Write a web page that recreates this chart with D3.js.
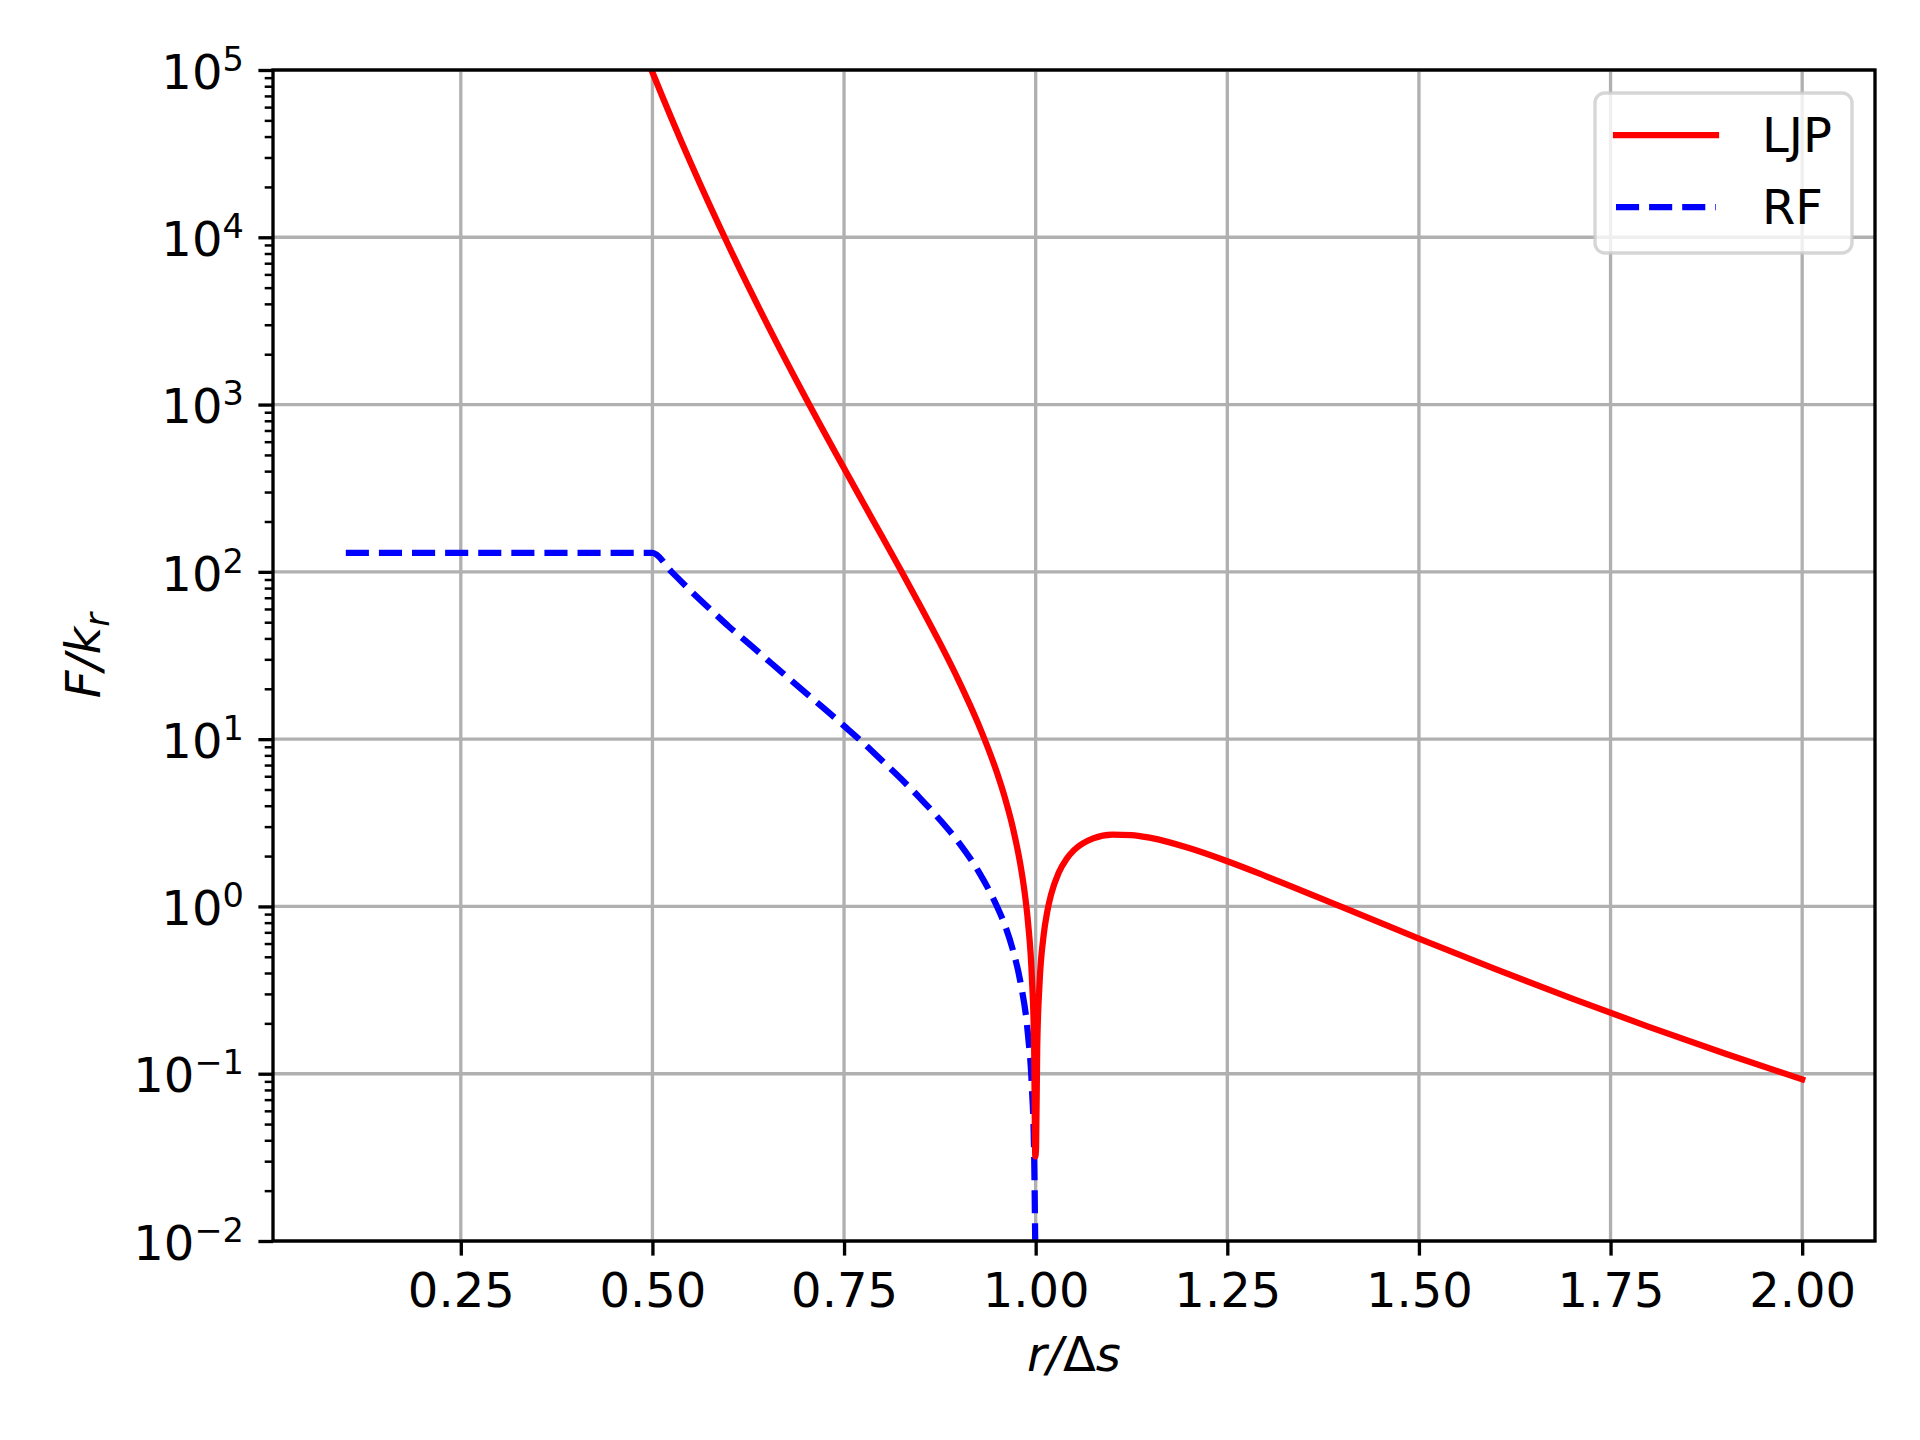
<!DOCTYPE html>
<html>
<head>
<meta charset="utf-8">
<script src="https://cdnjs.cloudflare.com/ajax/libs/d3/7.8.5/d3.min.js"></script>
<style>
  html, body { margin: 0; padding: 0; background: #fff; }
  text { font-family: "DejaVu Sans", sans-serif; }
</style>
</head>
<body>
<div id="chart-area"></div>
<script>
// data
var ljpR = [0.49, 0.50, 0.55, 0.60, 0.65, 0.70, 0.75, 0.775, 0.80, 0.825,
            0.85, 0.875, 0.90, 0.925, 0.95, 0.96, 0.97, 0.98, 0.985, 0.99,
            0.995, 0.998, 0.9995, 1.0005, 1.002, 1.005, 1.01, 1.015, 1.02, 1.03,
            1.04, 1.05, 1.075, 1.10, 1.125, 1.15, 1.20, 1.25, 1.30, 1.40,
            1.50, 1.60, 1.70, 1.80, 1.90, 2.00];
var ljpF = [126000, 97000, 27760, 8780, 3008, 1095, 416, 258.9, 161.4, 100.4,
            61.96, 37.6, 22.17, 12.38, 6.206, 4.442, 2.986, 1.785, 1.271, 0.803,
            0.381, 0.146, 0.032, 0.036, 0.143, 0.343, 0.651, 0.925, 1.173, 1.589,
            1.916, 2.169, 2.552, 2.689, 2.672, 2.567, 2.232, 1.861, 1.519, 0.990,
            0.642, 0.4215, 0.2809, 0.1907, 0.1317, 0.0925];

var rfR = [0.10, 0.50, 0.525, 0.55, 0.575, 0.60, 0.625, 0.65, 0.675, 0.70,
           0.725, 0.75, 0.775, 0.80, 0.825, 0.85, 0.875, 0.90, 0.925, 0.95,
           0.96, 0.97, 0.98, 0.99, 0.995, 0.998, 0.9994];
var rfF = [130, 130, 100, 77, 60, 47, 37.5, 29.8, 23.7, 18.9,
           15.1, 12.0, 9.5, 7.4, 5.75, 4.4, 3.3, 2.4, 1.63, 0.99,
           0.77, 0.555, 0.355, 0.17, 0.084, 0.033, 0.0098];

var xTicks = [0.25, 0.50, 0.75, 1.00, 1.25, 1.50, 1.75, 2.00];
var yExps = [-2, -1, 0, 1, 2, 3, 4, 5];
var seriesNames = ['LJP', 'RF'];

var def = {
    width: 1920,
    height: 1440,
    left: 273,
    right: 1875,
    top: 70,
    bottom: 1241,
    fs: 48,
    lw: 6.25,
    axw: 3.33
};

var svg = d3.select('#chart-area').append('svg')
    .attr('width', def.width)
    .attr('height', def.height);

svg.append('rect').attr('width', def.width).attr('height', def.height).attr('fill', '#fff');

var x = d3.scaleLinear()
    .domain([0.005, 2.095])
    .range([def.left, def.right]);

var y = d3.scaleLog()
    .domain([1e-2, 1e5])
    .range([def.bottom, def.top]);

var yMajor = yExps.map(function(e) { return Math.pow(10, e); });
var yMinor = [];
for (var e = -2; e < 5; e++) {
    for (var m = 2; m < 10; m++) yMinor.push(m * Math.pow(10, e));
}

// grid
var grid = svg.append('g').attr('stroke', '#b0b0b0').attr('stroke-width', def.axw);
grid.selectAll('.gx').data(xTicks).enter().append('line')
    .attr('x1', function(d) { return x(d); })
    .attr('x2', function(d) { return x(d); })
    .attr('y1', def.top).attr('y2', def.bottom);
grid.selectAll('.gy').data(yMajor).enter().append('line')
    .attr('y1', function(d) { return y(d); })
    .attr('y2', function(d) { return y(d); })
    .attr('x1', def.left).attr('x2', def.right);

// clip to axes box
svg.append('clipPath').attr('id', 'clip')
    .append('rect')
    .attr('x', def.left).attr('y', def.top)
    .attr('width', def.right - def.left).attr('height', def.bottom - def.top);

var line = d3.line()
    .x(function(d) { return x(d[0]); })
    .y(function(d) { return y(d[1]); })
    .curve(d3.curveMonotoneX);

var ljp = ljpR.map(function(r, i) { return [r, ljpF[i]]; });
var rf = rfR.map(function(r, i) { return [r, rfF[i]]; });

var plot = svg.append('g').attr('clip-path', 'url(#clip)');

plot.append('path')
    .datum(rf)
    .attr('d', line)
    .attr('fill', 'none')
    .attr('stroke', 'blue')
    .attr('stroke-width', def.lw)
    .attr('stroke-dasharray', '23.1,10')
    .attr('stroke-linejoin', 'round');

plot.append('path')
    .datum(ljp)
    .attr('d', line)
    .attr('fill', 'none')
    .attr('stroke', 'red')
    .attr('stroke-width', def.lw)
    .attr('stroke-linecap', 'square')
    .attr('stroke-linejoin', 'round');

// axes
var xAxis = d3.axisBottom(x)
    .tickValues(xTicks)
    .tickFormat(d3.format('.2f'))
    .tickSize(14.6)
    .tickPadding(14.6);

var xLeg = svg.append('g')
    .attr('transform', 'translate(0,' + def.bottom + ')')
    .call(xAxis);
xLeg.select('.domain').remove();
xLeg.selectAll('line').attr('stroke', '#000').attr('stroke-width', def.axw);
xLeg.selectAll('text')
    .attr('fill', '#000')
    .attr('font-size', def.fs + 'px')
    .attr('dy', '0.76em');

var yMinorAxis = d3.axisLeft(y).tickValues(yMinor).tickFormat('').tickSize(8.3);
var yMin = svg.append('g')
    .attr('transform', 'translate(' + def.left + ',0)')
    .call(yMinorAxis);
yMin.select('.domain').remove();
yMin.selectAll('line').attr('stroke', '#000').attr('stroke-width', 2.5);

var yAxis = d3.axisLeft(y).tickValues(yMajor).tickSize(14.6).tickPadding(14.6);
var yLeg = svg.append('g')
    .attr('transform', 'translate(' + def.left + ',0)')
    .call(yAxis);
yLeg.select('.domain').remove();
yLeg.selectAll('line').attr('stroke', '#000').attr('stroke-width', def.axw);
yLeg.selectAll('text')
    .attr('fill', '#000')
    .attr('font-size', def.fs + 'px')
    .attr('dy', '0.38em')
    .each(function(d) {
        var t = d3.select(this);
        var ex = Math.round(Math.log10(d));
        t.text('');
        t.append('tspan').text('10');
        t.append('tspan')
            .attr('font-size', (def.fs * 0.7) + 'px')
            .attr('dy', -18)
            .text(ex < 0 ? '\u2212' + (-ex) : '' + ex);
    });

// spines
svg.append('rect')
    .attr('x', def.left).attr('y', def.top)
    .attr('width', def.right - def.left).attr('height', def.bottom - def.top)
    .attr('fill', 'none')
    .attr('stroke', '#000')
    .attr('stroke-width', def.axw);

// X label
var xLab = svg.append('text')
    .attr('x', (def.left + def.right) / 2)
    .attr('y', 1371)
    .attr('text-anchor', 'middle')
    .attr('font-size', def.fs + 'px');
xLab.append('tspan').attr('font-style', 'italic').text('r/');
xLab.append('tspan').text('\u0394');
xLab.append('tspan').attr('font-style', 'italic').text('s');

// Y label
var yLab = svg.append('text')
    .attr('transform', 'translate(100,' + ((def.top + def.bottom) / 2) + ') rotate(-90)')
    .attr('text-anchor', 'middle')
    .attr('font-size', def.fs + 'px')
    .attr('font-style', 'italic');
yLab.append('tspan').text('F/k');
yLab.append('tspan').attr('font-size', (def.fs * 0.7) + 'px').attr('dy', 9).text('r');

// legend
var leg = svg.append('g');
leg.append('rect')
    .attr('x', 1595).attr('y', 93)
    .attr('width', 257).attr('height', 160)
    .attr('rx', 10).attr('ry', 10)
    .attr('fill', 'rgba(255,255,255,0.8)')
    .attr('stroke', 'rgba(204,204,204,0.8)')
    .attr('stroke-width', def.axw);

var legStyle = [
    { color: 'red', dash: null, cap: 'square' },
    { color: 'blue', dash: '23.1,10', cap: 'butt' }
];
seriesNames.forEach(function(name, i) {
    var ly = 135 + i * 72;
    leg.append('line')
        .attr('x1', 1616).attr('x2', 1716)
        .attr('y1', ly).attr('y2', ly)
        .attr('stroke', legStyle[i].color)
        .attr('stroke-width', def.lw)
        .attr('stroke-linecap', legStyle[i].cap)
        .attr('stroke-dasharray', legStyle[i].dash);
    leg.append('text')
        .attr('x', 1762).attr('y', ly + 17)
        .attr('font-size', def.fs + 'px')
        .attr('fill', '#000')
        .text(name);
});
</script>
</body>
</html>
